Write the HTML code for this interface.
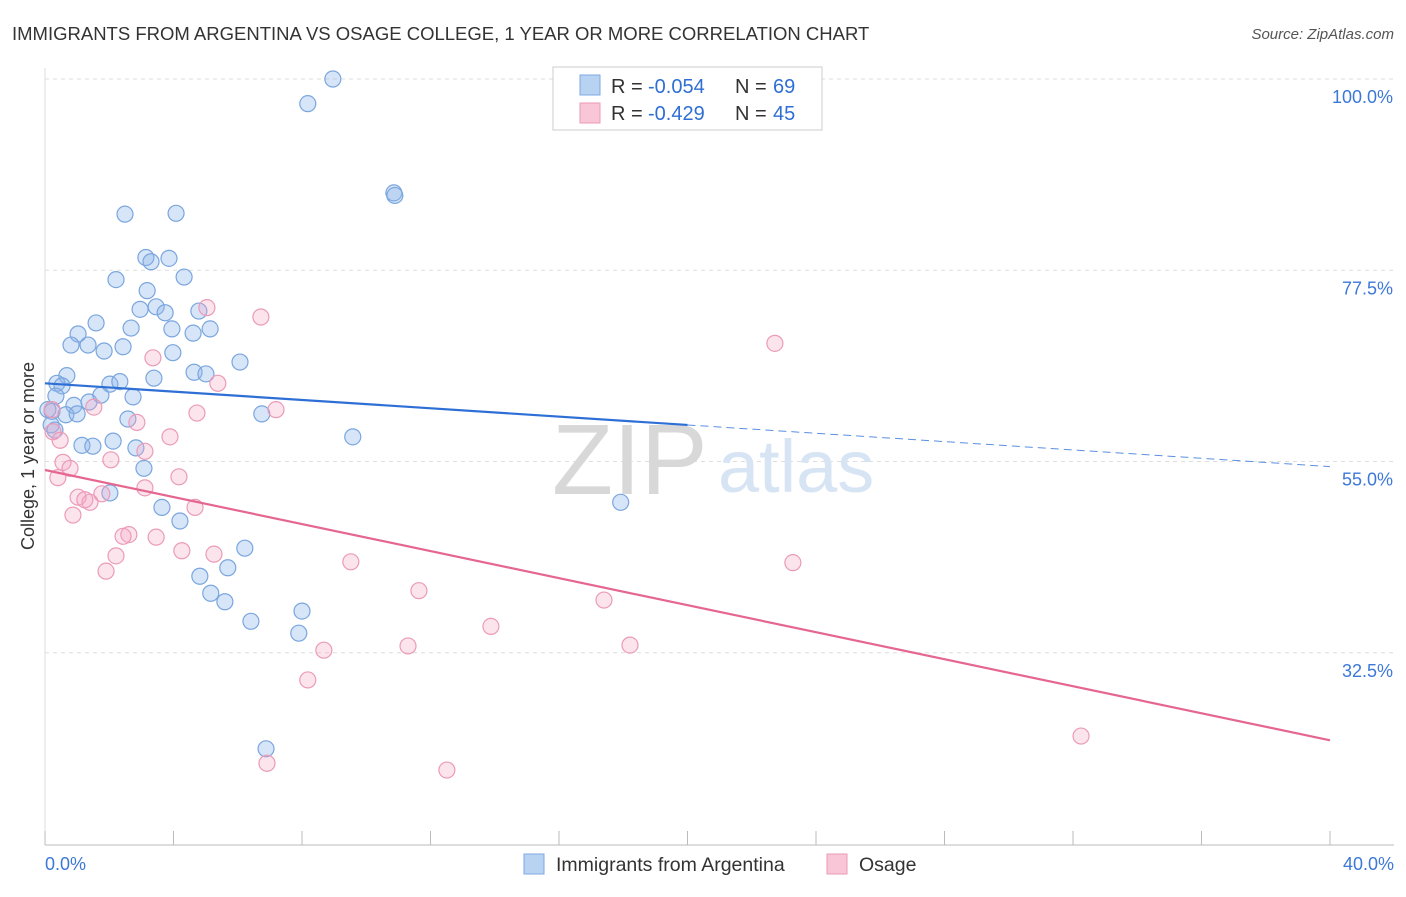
<!DOCTYPE html>
<html><head><meta charset="utf-8"><style>
body{margin:0;background:#fff;font-family:"Liberation Sans",sans-serif}
svg text{font-family:"Liberation Sans",sans-serif}
</style></head><body>
<svg id="c" width="1406" height="892" xmlns="http://www.w3.org/2000/svg">
<text x="12" y="40" font-size="18.5" fill="#333">IMMIGRANTS FROM ARGENTINA VS OSAGE COLLEGE, 1 YEAR OR MORE CORRELATION CHART</text>
<text x="1394" y="39" font-size="15" fill="#555" text-anchor="end" font-style="italic">Source: ZipAtlas.com</text>
<g id="grid"></g>
<text x="552" y="494" font-size="100" fill="#d8d8d8" font-family="Liberation Serif">ZIP</text>
<text x="718" y="492" font-size="74" fill="#d6e4f4">atlas</text>
<g id="marks"></g>
<text x="34" y="456" font-size="18" fill="#333" text-anchor="middle" transform="rotate(-90 34 456)">College, 1 year or more</text>
<g>
<rect x="553" y="67" width="269" height="63" fill="#fff" stroke="#ccc"/>
<rect x="580" y="75" width="20" height="20" fill="#b8d2f2" stroke="#7fa8e0"/>
<rect x="580" y="103" width="20" height="20" fill="#f8c6d6" stroke="#ec9ab6"/>
<text x="611" y="93" font-size="20" fill="#333">R =</text>
<text x="648" y="93" font-size="20" fill="#2f6fd4">-0.054</text>
<text x="735" y="93" font-size="20" fill="#333">N =</text>
<text x="773" y="93" font-size="20" fill="#2f6fd4">69</text>
<text x="611" y="120" font-size="20" fill="#333">R =</text>
<text x="648" y="120" font-size="20" fill="#2f6fd4">-0.429</text>
<text x="735" y="120" font-size="20" fill="#333">N =</text>
<text x="773" y="120" font-size="20" fill="#2f6fd4">45</text>
</g>
<g>
<rect x="524" y="854" width="20" height="20" fill="#b8d2f2" stroke="#7fa8e0"/>
<text x="556" y="871" font-size="19.5" fill="#333">Immigrants from Argentina</text>
<rect x="827" y="854" width="20" height="20" fill="#f8c6d6" stroke="#ec9ab6"/>
<text x="859" y="871" font-size="19.5" fill="#333">Osage</text>
</g>
</svg>
<script>
const yTicks=[100,77.5,55,32.5];
const yTickLabels=["100.0%","77.5%","55.0%","32.5%"];
const xTickLabels=["0.0%","40.0%"];
const blueX=[8.96,8.18,10.86,10.89,2.49,4.08,3.14,3.86,3.30,2.21,4.33,3.18,2.96,3.46,3.74,4.79,1.59,2.68,3.95,5.14,4.61,1.03,0.81,1.34,1.84,2.43,3.98,6.07,4.64,5.01,0.68,3.39,0.37,0.53,2.02,2.33,0.34,2.74,1.37,1.74,0.90,0.22,0.65,1.00,6.75,2.58,0.19,9.58,1.15,1.49,2.12,2.83,3.08,2.02,17.92,3.64,4.20,6.22,4.82,5.69,5.16,5.60,8.00,6.41,7.90,6.88,0.09,0.31];
const blueY=[100,97.1,86.6,86.3,84.1,84.2,79.0,78.9,78.5,76.4,76.7,75.1,72.9,73.2,72.5,72.7,71.3,70.7,70.6,70.6,70.1,70.0,68.7,68.7,68.0,68.5,67.8,66.7,65.5,65.3,65.1,64.8,64.2,63.9,64.1,64.4,62.7,62.6,62.0,62.8,61.6,60.9,60.5,60.6,60.6,60.0,59.3,57.9,56.9,56.8,57.4,56.6,54.2,51.3,50.2,49.6,48.0,44.8,41.5,42.5,39.5,38.5,37.4,36.2,34.8,21.2,61.1,58.7];
const pinkX=[0.22,0.25,0.56,0.78,0.40,4.17,1.03,1.40,1.24,1.77,3.11,4.67,0.87,2.05,2.61,2.43,3.46,2.21,4.26,5.26,1.90,9.52,11.64,17.40,13.88,11.30,18.21,8.68,8.18,6.91,12.51,32.25,23.28,22.72,6.72,5.04,5.38,3.36,7.19,4.73,2.86,3.89,3.11,1.52,0.47];
const pinkY=[61.1,58.5,54.9,54.2,53.1,53.2,50.8,50.2,50.5,51.2,51.9,49.6,48.7,55.2,46.4,46.2,46.1,43.9,44.5,44.1,42.1,43.2,39.8,38.7,35.6,33.3,33.4,32.8,29.3,19.5,18.7,22.7,43.1,68.9,72.0,73.1,64.2,67.2,61.1,60.7,59.6,57.9,56.2,61.4,57.5];
const blueTrend=[64.2,54.4];
const pinkTrend=[54.0,22.2];
const NS="http://www.w3.org/2000/svg";
const X=v=>45+v/40*1285, Y=v=>79+(100-v)*8.5;
function mk(t,a,p){const e=document.createElementNS(NS,t);for(const k in a)e.setAttribute(k,a[k]);p.appendChild(e);return e;}
const g=document.getElementById('grid'), m=document.getElementById('marks');
yTicks.forEach((t,i)=>{
 const l=mk('line',{x1:45,x2:1394,y1:Y(t),y2:Y(t),stroke:'#ddd','stroke-dasharray':'4 4'},g);
 
 
 const tx=mk('text',{x:1393,y:Y(t)+24,'font-size':18,fill:'#3c78d8','text-anchor':'end'},g);
 tx.textContent=yTickLabels[i];
 
 
});
const ax=mk('line',{x1:45,x2:1394,y1:845,y2:845,stroke:'#bbb'},g);


const ay=mk('line',{x1:45,x2:45,y1:68,y2:845,stroke:'#ddd'},g);


for(let i=0;i<=10;i++){const tk=mk('line',{x1:X(i*4),x2:X(i*4),y1:831,y2:845,stroke:'#bbb'},g);
 
 }
[[0,'start',45],[1,'end',1394]].forEach(([i,a,x])=>{const t=mk('text',{x:x,y:870,'font-size':18,fill:'#3c78d8','text-anchor':a},g);t.textContent=xTickLabels[i];
 
 });
function pts(xs,ys,fill,stroke,name){xs.forEach((x,i)=>{const c=mk('circle',{cx:X(x),cy:Y(ys[i]),r:8,fill:fill,stroke:stroke,'stroke-width':1.2},m);
 
 });}
pts(blueX,blueY,'rgba(140,180,235,0.35)','#7aa6de','argentina-point');
pts(pinkX,pinkY,'rgba(245,165,195,0.3)','#eb9bb8','osage-point');
const bm=blueTrend[0]+(blueTrend[1]-blueTrend[0])*0.5;
let l1=mk('line',{x1:X(0),y1:Y(blueTrend[0]),x2:X(20),y2:Y(bm),stroke:'#2e6fd6','stroke-width':2.2},m);


let l2=mk('line',{x1:X(20),y1:Y(bm),x2:X(40),y2:Y(blueTrend[1]),stroke:'#5b8fdf','stroke-width':1,'stroke-dasharray':'8 5'},m);


let l3=mk('line',{x1:X(0),y1:Y(pinkTrend[0]),x2:X(40),y2:Y(pinkTrend[1]),stroke:'#e5668f','stroke-width':2.2},m);


</script>
</body></html>
